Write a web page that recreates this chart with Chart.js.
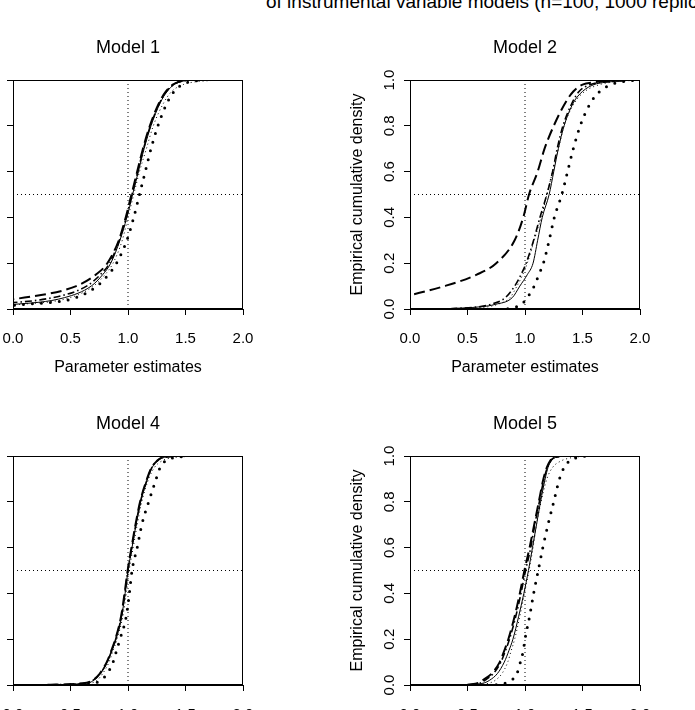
<!DOCTYPE html>
<html><head><meta charset="utf-8">
<script src="https://cdn.jsdelivr.net/npm/chart.js@4/dist/chart.umd.min.js"></script>
<style>
html,body{margin:0;padding:0;background:#fff;}
body{width:695px;height:710px;overflow:hidden;position:relative;font-family:"Liberation Sans",Arial,sans-serif;}
.panel{position:absolute;width:330px;height:370px;}
#suptitle{position:absolute;left:266px;top:-8px;font-size:19px;line-height:19px;white-space:nowrap;color:#000;}
</style></head><body>
<div id="suptitle">of instrumental variable models (n=100, 1000 replications)</div>
<div class="panel" style="left:-67px;top:20px"><canvas id="c1" width="330" height="370"></canvas></div>
<div class="panel" style="left:330px;top:20px"><canvas id="c2" width="330" height="370"></canvas></div>
<div class="panel" style="left:-67px;top:396px"><canvas id="c4" width="330" height="370"></canvas></div>
<div class="panel" style="left:330px;top:396px"><canvas id="c5" width="330" height="370"></canvas></div>
<script>
// ---- data ----
const panelTitles = ['Model 1', 'Model 2', 'Model 4', 'Model 5'];
const xTickVals = [0, 0.5, 1, 1.5, 2];
const yTickVals = [0, 0.2, 0.4, 0.6, 0.8, 1];
const xRange = [0, 2];
const yRange = [0, 1];
const refLineX = [1];
const refLineY = [0.5];
const xAxisTitle = 'Parameter estimates';
const yAxisTitle = 'Empirical cumulative density';
const seriesNames = ['solid', 'dashed', 'dot-dash', 'dotted', 'heavy dots'];
// cumulative probabilities, and the estimate (quantile) reached at each one
const probs = [0.001,0.01,0.02,0.05,0.1,0.15,0.2,0.3,0.4,0.5,0.6,0.7,0.8,0.9,0.95,0.98,0.99,0.999];

const m1Solid   = [-1.5,-0.6,0.0,0.45,0.68,0.78,0.85,0.93,0.99,1.04,1.09,1.14,1.2,1.28,1.34,1.4,1.44,1.52];
const m1Dashed  = [-2,-1,-0.5,0.1,0.55,0.72,0.82,0.92,0.98,1.03,1.08,1.13,1.19,1.27,1.33,1.39,1.43,1.5];
const m1DotDash = [-2,-1,-0.4,0.35,0.64,0.76,0.84,0.925,0.985,1.035,1.085,1.135,1.195,1.275,1.335,1.395,1.435,1.51];
const m1Dotted  = [-1.2,-0.4,0.05,0.5,0.7,0.8,0.87,0.95,1.0,1.05,1.1,1.16,1.22,1.31,1.38,1.48,1.56,1.75];
const m1Heavy   = [-1,-0.3,0.1,0.55,0.73,0.83,0.9,0.99,1.05,1.1,1.15,1.2,1.26,1.34,1.4,1.47,1.52,1.62];

const m2Solid   = [0.3,0.62,0.74,0.89,0.955,1.02,1.07,1.11,1.15,1.21,1.25,1.29,1.34,1.42,1.5,1.6,1.7,1.9];
const m2Dashed  = [-1.5,-0.8,-0.5,-0.1,0.3,0.58,0.75,0.91,0.985,1.035,1.11,1.17,1.25,1.35,1.42,1.5,1.6,1.85];
const m2DotDash = [0.35,0.6,0.7,0.83,0.91,0.965,1.01,1.075,1.13,1.19,1.24,1.28,1.33,1.41,1.47,1.57,1.67,1.9];
const m2Dotted  = [0.5,0.68,0.76,0.87,0.93,0.98,1.02,1.08,1.14,1.19,1.24,1.29,1.34,1.43,1.52,1.65,1.75,1.95];
const m2Heavy   = [0.85,0.93,0.97,1.02,1.08,1.12,1.16,1.21,1.255,1.32,1.37,1.42,1.48,1.57,1.65,1.75,1.82,1.95];

const m4Solid   = [0.35,0.66,0.70,0.76,0.82,0.86,0.895,0.945,0.975,1.0,1.035,1.07,1.11,1.17,1.21,1.26,1.29,1.4];
const m4Dashed  = [0.3,0.64,0.69,0.755,0.815,0.855,0.89,0.94,0.97,0.997,1.03,1.065,1.105,1.165,1.205,1.255,1.28,1.38];
const m4DotDash = [0.32,0.65,0.695,0.758,0.818,0.858,0.893,0.943,0.973,0.999,1.033,1.068,1.108,1.168,1.208,1.258,1.285,1.39];
const m4Dotted  = [0.45,0.69,0.73,0.78,0.835,0.87,0.905,0.955,0.985,1.01,1.045,1.08,1.12,1.18,1.23,1.3,1.36,1.55];
const m4Heavy   = [0.5,0.72,0.76,0.82,0.87,0.9,0.93,0.985,1.012,1.035,1.08,1.12,1.18,1.245,1.28,1.33,1.38,1.5];

const m5Solid   = [0.55,0.65,0.69,0.76,0.82,0.86,0.895,0.945,0.99,1.03,1.065,1.1,1.135,1.175,1.2,1.23,1.25,1.3];
const m5Dashed  = [0.5,0.6,0.63,0.71,0.78,0.82,0.855,0.91,0.955,0.995,1.04,1.08,1.12,1.16,1.19,1.22,1.24,1.3];
const m5DotDash = [0.52,0.62,0.65,0.725,0.79,0.83,0.865,0.92,0.965,1.005,1.05,1.085,1.125,1.165,1.195,1.225,1.245,1.31];
const m5Dotted  = [0.6,0.7,0.74,0.8,0.85,0.88,0.91,0.955,0.995,1.035,1.07,1.1,1.14,1.19,1.24,1.32,1.38,1.5];
const m5Heavy   = [0.75,0.84,0.88,0.93,0.96,0.985,1.0,1.04,1.075,1.115,1.155,1.2,1.25,1.3,1.34,1.39,1.43,1.52];

const panelSeries = [
  [m1Solid, m1Dashed, m1DotDash, m1Dotted, m1Heavy],
  [m2Solid, m2Dashed, m2DotDash, m2Dotted, m2Heavy],
  [m4Solid, m4Dashed, m4DotDash, m4Dotted, m4Heavy],
  [m5Solid, m5Dashed, m5DotDash, m5Dotted, m5Heavy]
];

// ---- styles ----
const FONT = '"Liberation Sans", Arial, sans-serif';
Chart.defaults.font.family = FONT;
Chart.defaults.color = '#000';
const lineStyles = [
  {borderWidth: 1, borderDash: []},
  {borderWidth: 2, borderDash: [11, 5]},
  {borderWidth: 1.6, borderDash: [7, 3, 1.5, 3]},
  {borderWidth: 1, borderDash: [1, 3]},
  {borderWidth: 3, borderDash: [0, 9], borderCapStyle: 'round'}
];

const boxPlugin = {
  id: 'box',
  afterDraw(chart) {
    const a = chart.chartArea, ctx = chart.ctx;
    ctx.save();
    ctx.strokeStyle = '#000';
    ctx.lineWidth = 1;
    ctx.setLineDash([]);
    ctx.strokeRect(Math.round(a.left) + 0.5, Math.round(a.top) + 0.5,
                   Math.round(a.right - a.left) - 1, Math.round(a.bottom - a.top) - 1);
    ctx.restore();
  }
};

function makePanel(id, idx) {
  const datasets = panelSeries[idx].map((q, s) => Object.assign({
    label: seriesNames[s],
    data: q.map((x, i) => ({x: x, y: probs[i]})),
    showLine: true, pointRadius: 0, borderColor: '#000', backgroundColor: '#000',
    cubicInterpolationMode: 'monotone', fill: false, clip: 0
  }, lineStyles[s]));
  datasets.push({
    label: 'ref x', data: [{x: refLineX[0], y: yRange[0]}, {x: refLineX[0], y: yRange[1]}],
    showLine: true, pointRadius: 0, borderColor: '#000', borderWidth: 1, borderDash: [1, 3], tension: 0, clip: 0
  });
  datasets.push({
    label: 'ref y', data: [{x: xRange[0], y: refLineY[0]}, {x: xRange[1], y: refLineY[0]}],
    showLine: true, pointRadius: 0, borderColor: '#000', borderWidth: 1, borderDash: [1, 3], tension: 0, clip: 0
  });

  new Chart(document.getElementById(id), {
    type: 'scatter',
    data: {datasets},
    options: {
      responsive: false, animation: false, events: [],
      layout: {padding: {left: 0, right: 20, top: 0, bottom: 0}},
      plugins: {
        legend: {display: false}, tooltip: {enabled: false},
        title: {display: true, fullSize: false, text: panelTitles[idx], color: '#000',
                font: {family: FONT, size: 18, weight: 'normal'}, padding: {top: 17.2, bottom: 21.2}}
      },
      scales: {
        x: {
          type: 'linear', min: xRange[0], max: xRange[1],
          afterBuildTicks: s => { s.ticks = xTickVals.map(v => ({value: v})); },
          ticks: {color: '#000', font: {family: FONT, size: 15}, padding: 15, maxRotation: 0, autoSkip: false,
                  callback: v => Number(v).toFixed(1)},
          grid: {display: true, drawOnChartArea: false, drawTicks: true, tickLength: 6, color: '#000', lineWidth: 1},
          border: {display: true, color: '#000'},
          title: {display: true, text: xAxisTitle, color: '#000', font: {family: FONT, size: 16}, padding: {top: 0, bottom: 12.4}},
          afterFit: s => { s.height = 81; s.paddingLeft = 0; s.paddingRight = 0; }
        },
        y: {
          type: 'linear', min: yRange[0], max: yRange[1],
          afterBuildTicks: s => { s.ticks = yTickVals.map(v => ({value: v})); },
          ticks: {color: '#000', font: {family: FONT, size: 15}, padding: 4, minRotation: 90, maxRotation: 90,
                  crossAlign: 'center', autoSkip: false, callback: v => Number(v).toFixed(1)},
          grid: {display: true, drawOnChartArea: false, drawTicks: true, tickLength: 6, color: '#000', lineWidth: 1},
          border: {display: true, color: '#000'},
          title: {display: true, text: yAxisTitle, color: '#000', font: {family: FONT, size: 16}, padding: {top: 18.4, bottom: 0}},
          afterFit: s => { s.width = 80; s.paddingTop = 0; s.paddingBottom = 0; }
        }
      }
    },
    plugins: [boxPlugin]
  });
}
makePanel('c1', 0);
makePanel('c2', 1);
makePanel('c4', 2);
makePanel('c5', 3);
</script>
</body></html>
